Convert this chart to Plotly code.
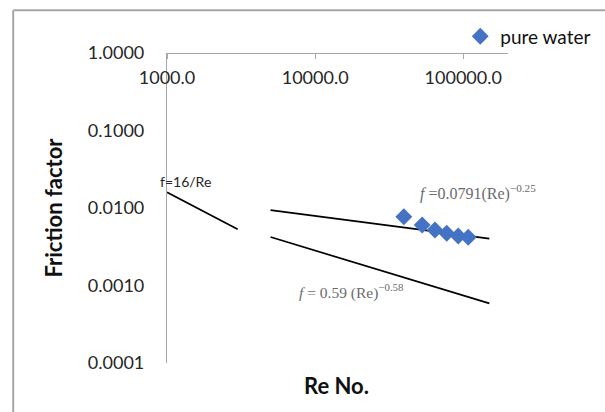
import plotly.graph_objects as go

# Measured friction factor for pure water
re_water = [39700, 52800, 64400, 77300, 92500, 108000]
f_water = [0.00772, 0.00604, 0.00520, 0.00472, 0.00435, 0.00419]

# Reference correlations: f = a * Re^(-n), drawn between the listed Re end points
laminar_re = [1000, 3000]          # f = 16/Re
blasius_re = [5000, 150000]        # f = 0.0791 Re^-0.25
virk_re = [5000, 150000]           # f = 0.59 Re^-0.58
blasius_a, blasius_n = 0.0791, 0.25
virk_a, virk_n = 0.59, 0.58

laminar_f = [16 / r for r in laminar_re]
blasius_f = [blasius_a * r ** (-blasius_n) for r in blasius_re]
virk_f = [virk_a * r ** (-virk_n) for r in virk_re]

FONT = "Lato, 'Open Sans', sans-serif"
SERIF = "'Liberation Serif', 'DejaVu Serif', serif"
AXIS_GREY = "#a6a6a6"

fig = go.Figure()

for xs, ys in [(laminar_re, laminar_f), (blasius_re, blasius_f), (virk_re, virk_f)]:
    fig.add_trace(go.Scatter(
        x=xs, y=ys, mode="lines", showlegend=False, hoverinfo="skip",
        line=dict(color="black", width=1.7),
    ))

fig.add_trace(go.Scatter(
    x=re_water, y=f_water, mode="markers", name="pure water",
    marker=dict(symbol="diamond", size=13, color="#4472C4"),
))

annotations = [
    dict(x=3.123, y=-1.659, xref="x", yref="y", text="f=16/Re", showarrow=False,
         font=dict(family=FONT, size=14, color="#262626")),
    dict(x=5.099, y=-1.805, xref="x", yref="y",
         text="<i>f</i> =0.0791(Re)<sup>−0.25</sup>", showarrow=False,
         font=dict(family=SERIF, size=16, color="#6b6b6b")),
    dict(x=4.248, y=-3.080, xref="x", yref="y",
         text="<i>f</i> = 0.59 (Re)<sup>−0.58</sup>", showarrow=False,
         font=dict(family=SERIF, size=15.5, color="#6b6b6b")),
    dict(x=0.498, y=-0.071, xref="paper", yref="paper", text="<b>Re No.</b>",
         showarrow=False, yanchor="middle",
         font=dict(family=FONT, size=22, color="#111111")),
]

# Outer chart frame (left and top edges)
shapes = [
    dict(type="line", xref="paper", yref="paper", x0=-0.451, x1=-0.451, y0=1.1376, y1=-0.3,
         line=dict(color=AXIS_GREY, width=2)),
    dict(type="line", xref="paper", yref="paper", x0=-0.451, x1=1.4, y0=1.1376, y1=1.1376,
         line=dict(color=AXIS_GREY, width=2)),
]

fig.update_layout(
    width=605, height=412,
    margin=dict(l=167, r=97, t=53, b=49, autoexpand=False),
    paper_bgcolor="white", plot_bgcolor="white",
    font=dict(family=FONT, color="#262626"),
    annotations=annotations,
    shapes=shapes,
    legend=dict(x=0.86, y=1.0536, xanchor="left", yanchor="middle",
                bgcolor="rgba(0,0,0,0)", font=dict(family=FONT, size=19, color="#111111"),
                itemwidth=30),
    showlegend=True,
)

# Horizontal axis crosses at f = 1, with its labels hanging below the line
fig.update_xaxes(
    type="log", range=[3, 5.302], side="bottom", anchor="free", position=1,
    showgrid=False, zeroline=False,
    showline=True, linecolor=AXIS_GREY, linewidth=1.2,
    ticks="outside", ticklen=5, tickcolor=AXIS_GREY,
    ticklabelstandoff=3,
    dtick=1, tickformat=".1f",
    tickfont=dict(family=FONT, size=18, color="#262626"),
)
fig.update_yaxes(
    type="log", range=[-4, 0],
    showgrid=False, zeroline=False,
    showline=True, linecolor=AXIS_GREY, linewidth=1.2,
    ticks="", ticklabelstandoff=18,
    dtick=1, tickformat=".4f",
    tickfont=dict(family=FONT, size=18, color="#262626"),
    title=dict(text="<b>Friction factor</b>", standoff=19,
               font=dict(family=FONT, size=22, color="#111111")),
)

fig.write_html("out.html")
